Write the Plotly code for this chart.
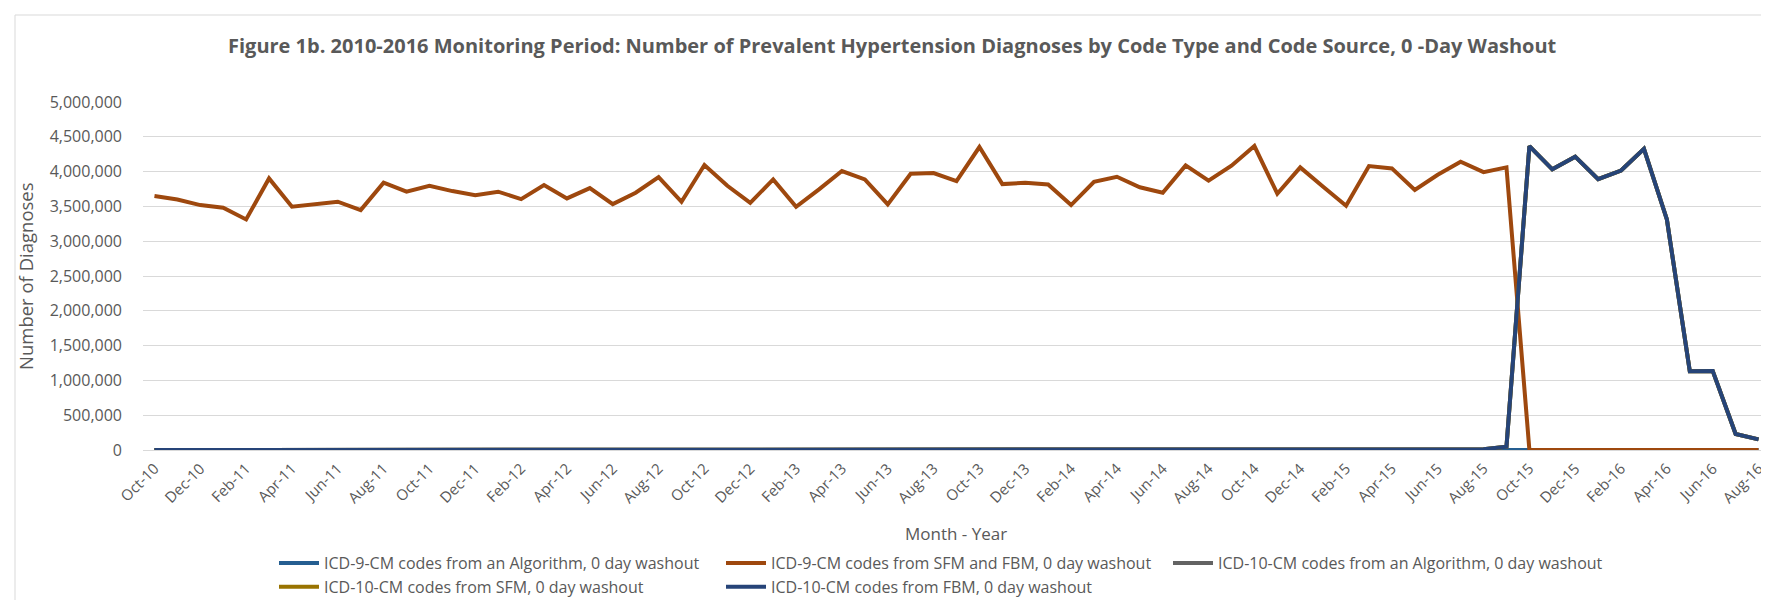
import plotly.graph_objects as go

months = ["Oct-10","Nov-10","Dec-10","Jan-11","Feb-11","Mar-11","Apr-11","May-11","Jun-11","Jul-11",
          "Aug-11","Sep-11","Oct-11","Nov-11","Dec-11","Jan-12","Feb-12","Mar-12","Apr-12","May-12",
          "Jun-12","Jul-12","Aug-12","Sep-12","Oct-12","Nov-12","Dec-12","Jan-13","Feb-13","Mar-13",
          "Apr-13","May-13","Jun-13","Jul-13","Aug-13","Sep-13","Oct-13","Nov-13","Dec-13","Jan-14",
          "Feb-14","Mar-14","Apr-14","May-14","Jun-14","Jul-14","Aug-14","Sep-14","Oct-14","Nov-14",
          "Dec-14","Jan-15","Feb-15","Mar-15","Apr-15","May-15","Jun-15","Jul-15","Aug-15","Sep-15",
          "Oct-15","Nov-15","Dec-15","Jan-16","Feb-16","Mar-16","Apr-16","May-16","Jun-16","Jul-16",
          "Aug-16"]

tick_labels = months[::2]

icd9_algorithm = [0] * 71

icd9_sfm_fbm = [3648000, 3600000, 3519000, 3480000, 3313000, 3902000, 3495000, 3528000, 3567000, 3447000,
                3840000, 3711000, 3797000, 3720000, 3662000, 3711000, 3605000, 3806000, 3615000, 3763000,
                3533000, 3696000, 3921000, 3567000, 4094000, 3797000, 3552000, 3888000, 3495000, 3744000,
                4008000, 3888000, 3528000, 3969000, 3979000, 3864000, 4353000, 3821000, 3840000, 3816000,
                3519000, 3854000, 3926000, 3775000, 3696000, 4089000, 3869000, 4084000, 4367000, 3682000,
                4060000, 3782000, 3509000, 4080000, 4046000, 3738000, 3955000, 4143000, 3992000, 4061000,
                0, 0, 0, 0, 0, 0, 0, 0, 0, 0,
                0]

icd10_fbm = [0] * 56 + [0, 2000, 10000, 48000,
             4366000, 4033000, 4215000, 3892000, 4015000, 4326000, 3313000, 1131000, 1136000, 230000,
             153000]

icd10_algorithm = [0] * 57 + icd10_fbm[57:]
icd10_sfm = [0] * 57 + icd10_fbm[57:]

series_names = [
    "ICD-9-CM codes from an Algorithm, 0 day washout",
    "ICD-9-CM codes from SFM and FBM, 0 day washout",
    "ICD-10-CM codes from an Algorithm, 0 day washout",
    "ICD-10-CM codes from SFM, 0 day washout",
    "ICD-10-CM codes from FBM, 0 day washout",
]
series_values = [icd9_algorithm, icd9_sfm_fbm, icd10_algorithm, icd10_sfm, icd10_fbm]
series_colors = ["#255E91", "#9E480E", "#636363", "#997300", "#264478"]

TXT = "#595959"
FONT = "Open Sans"

fig = go.Figure()
for name, vals, col in zip(series_names, series_values, series_colors):
    fig.add_trace(go.Scatter(x=months, y=vals, mode="lines", name=name,
                             line=dict(color=col, width=4)))

W, H = 1769, 600
L, R, T, B = 135, 7, 94, 158
pw, ph = W - L - R, H - T - B


def px(x):
    return (x - L) / pw


def py(y):
    return (H - B - y) / ph


fig.update_layout(
    width=W, height=H,
    margin=dict(l=L, r=R, t=T, b=B, autoexpand=False),
    paper_bgcolor="white", plot_bgcolor="white",
    font=dict(family=FONT, color=TXT, size=14),
    showlegend=True,
    legend=dict(orientation="h", x=px(266), xanchor="left", y=py(538), yanchor="top",
                entrywidth=392, entrywidthmode="pixels", itemwidth=40,
                font=dict(family=FONT, size=16, color=TXT), bgcolor="rgba(0,0,0,0)",
                traceorder="normal"),
    xaxis=dict(type="category", categoryorder="array", categoryarray=months,
               range=[-0.5, 70.5], tickmode="array", tickvals=tick_labels, ticktext=tick_labels,
               tickangle=-45, showgrid=False, showline=False, zeroline=False, ticks="",
               tickfont=dict(family=FONT, size=15, color=TXT), ticklabelstandoff=6),
    yaxis=dict(range=[0, 5000000], dtick=500000, tick0=0, tickformat=",",
               showgrid=True, gridcolor="#D9D9D9", gridwidth=1,
               zeroline=True, zerolinecolor="#D9D9D9", zerolinewidth=1,
               showline=False, ticks="", ticklabelstandoff=20,
               tickfont=dict(family=FONT, size=16, color=TXT)),
    annotations=[
        dict(text="Figure 1b. 2010-2016 Monitoring Period: Number of Prevalent Hypertension Diagnoses by Code Type and Code Source, 0 -Day Washout",
             x=px(884), y=py(38), xref="paper", yref="paper", showarrow=False,
             xanchor="center", yanchor="middle",
             font=dict(family=FONT, size=20, color=TXT, weight="bold")),
        dict(text="Number of Diagnoses", x=px(17), y=0.5, xref="paper", yref="paper",
             showarrow=False, textangle=-90, xanchor="center", yanchor="middle",
             font=dict(family=FONT, size=18.5, color=TXT)),
        dict(text="Month - Year", x=px(948), y=py(525), xref="paper", yref="paper",
             showarrow=False, xanchor="center", yanchor="middle",
             font=dict(family=FONT, size=17, color=TXT)),
    ],
    shapes=[
        dict(type="line", xref="paper", yref="paper", x0=px(7), x1=px(7), y0=py(7), y1=py(600),
             line=dict(color="#D9D9D9", width=1)),
        dict(type="line", xref="paper", yref="paper", x0=px(7), x1=px(1769), y0=py(7), y1=py(7),
             line=dict(color="#D9D9D9", width=1)),
    ],
)

fig.write_html("out.html")
